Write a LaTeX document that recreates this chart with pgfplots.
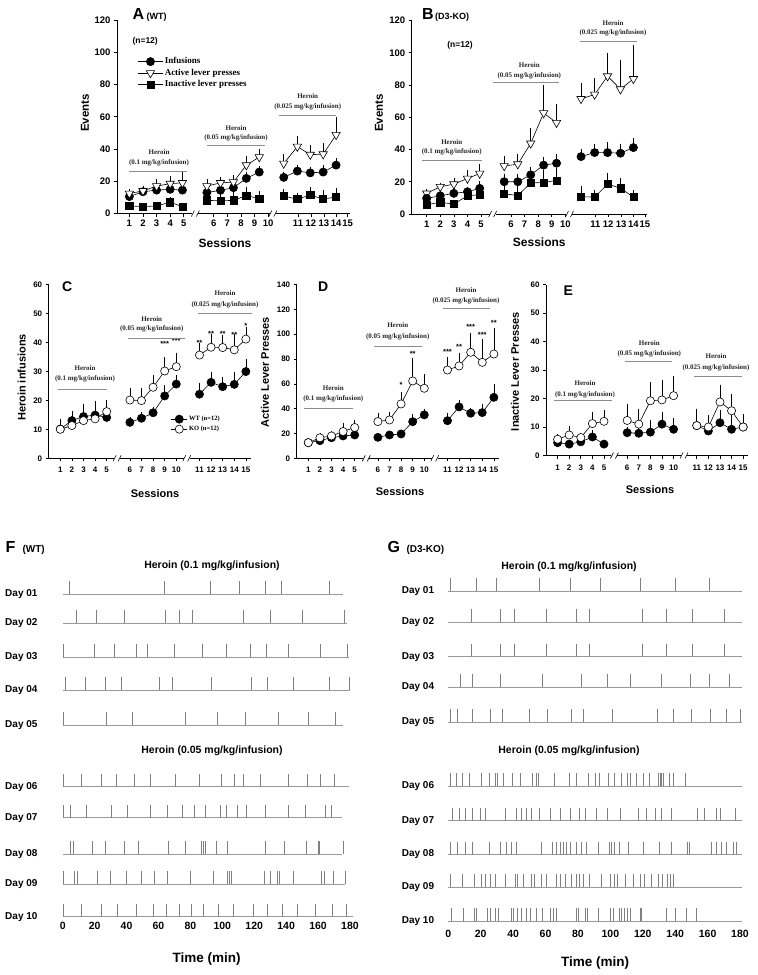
\documentclass[border=0pt]{standalone}
\usepackage{fontspec}
\setmainfont{Liberation Sans}
\newfontfamily\tms{Liberation Serif}
\usepackage{pgfplots}
\pgfplotsset{compat=1.18}
\newcommand\fs[1]{\fontsize{#1}{#1}\selectfont}
% dose annotation: x, y(Heroin), y(dose), dose, y(line), x1, x2  (pixel units)
\newcommand\hero[7]{%
  \node[font=\tms\bfseries\fs{7}, text=black!85] at (#1pt,-#2pt) {Heroin};
  \node[font=\tms\bfseries\fs{7}, text=black!85] at (#1pt,-#3pt) {(#4 mg/kg/infusion)};
  \draw[black!45, line width=0.8pt] (#6pt,-#5pt) -- (#7pt,-#5pt);}
% axis break
\newcommand\brk[1]{%
  \fill[white] ([xshift=-3pt,yshift=-2pt]axis cs:#1,0) rectangle ([xshift=3pt,yshift=2pt]axis cs:#1,0);
  \draw[black, line width=0.6pt] ([xshift=-4pt,yshift=-3pt]axis cs:#1,0) -- ([xshift=-1pt,yshift=3pt]axis cs:#1,0)
    ([xshift=1pt,yshift=-3pt]axis cs:#1,0) -- ([xshift=4pt,yshift=3pt]axis cs:#1,0);}
% raster row: y, end of baseline, event times
\newcommand\rast[3]{%
  \addplot[black!40, line width=0.8pt, mark=none] coordinates {(0,#1) (#2,#1)};
  \addplot[tk] table[header=false, x index=0, y expr=#1, row sep=\\] {#3};}

\pgfplotsset{
  inf/.style={black, line width=0.6pt, mark=*, mark size=4.1pt, mark options={solid, fill=black}},
  act/.style={black, line width=0.6pt, mark=triangle*, mark size=4.8pt, mark options={solid, fill=white, rotate=180}},
  inact/.style={black, line width=0.6pt, mark=square*, mark size=3.6pt, mark options={solid, fill=black}},
  wt/.style={black, line width=0.6pt, mark=*, mark size=4.1pt, mark options={solid, fill=black}},
  ko/.style={black, line width=0.6pt, mark=*, mark size=4.1pt, mark options={solid, fill=white}},
  ebar/.style={error bars/y dir=plus, error bars/y explicit,
    error bars/error bar style={black, line width=0.6pt},
    error bars/error mark options={black, mark size=2.6pt, line width=0.6pt}},
  tk/.style={only marks, mark=|, mark size=6.5pt, black!50, mark options={line width=0.8pt, yshift=6.5pt}},
  base/.style={scale only axis, anchor=south west, axis x line*=bottom, axis y line*=left,
    tick align=outside, major tick length=3pt, tick style={black, line width=0.6pt},
    axis line style={black, line width=0.7pt}, clip=false, unbounded coords=jump,
    /pgf/number format/assume math mode=true},
  ab/.style={base, tick label style={font=\bfseries\fs{9.5}},
    xtick={1,2,3,4,5,7.2,8.2,9.2,10.2,11.2,13.4,14.35,15.3,16.2,17.05},
    xticklabels={1,2,3,4,5,6,7,8,9,10,11,12,13,14,15},
    xmax=17.2, ymin=0, ymax=120, ytick={0,20,...,120}},
  cde/.style={base, tick label style={font=\bfseries\fs{8}},
    xticklabel style={yshift=-2.5pt},
    xtick={1,2,3,4,5,7,8,9,10,11,13,14,15,16,17},
    xticklabels={1,2,3,4,5,6,7,8,9,10,11,12,13,14,15},
    xmin=0, xmax=17.4, ymin=0, width=201.8pt},
  ras/.style={scale only axis, anchor=south west, y dir=reverse, clip=false,
    axis line style={draw=none}, major tick length=0pt, xmin=0, xmax=180, ymin=0.3,
    xtick={0,20,...,180}, /pgf/number format/assume math mode=true,
    xticklabel style={font=\bfseries\fs{10.5}},
    yticklabels={Day 01,Day 02,Day 03,Day 04,Day 05,Day 06,Day 07,Day 08,Day 09,Day 10}},
}

\begin{document}
\begin{tikzpicture}
\path[use as bounding box] (0pt,0pt) rectangle (758pt,-975pt);

%% ---------------- A (WT) ----------------
\begin{axis}[ab, at={(117pt,-213.5pt)}, width=232.7pt, height=193.5pt, xmin=0.09,
  legend style={at={(0.075,0.825)}, anchor=north west, draw=none, fill=none,
    font=\tms\bfseries\fs{9}, row sep=0.3pt,
    nodes={inner sep=1.5pt, text height=6.3pt, text depth=1.8pt}},
  legend cell align=left,
  legend image code/.code={\draw[mark repeat=2, mark phase=2, #1] plot coordinates {(0pt,0pt) (12.5pt,0pt) (25pt,0pt)};}]
\addplot[inf, ebar] coordinates {
 (1,10.5)+-(0,1) (2,13.5)+-(0,1.5) (3,14.5)+-(0,1.5) (4,15)+-(0,2) (4.9,14.5)+-(0,1.5) (5.8,nan)+-(0,0)
 (6.7,13)+-(0,1.5) (7.7,14.4)+-(0,1.5) (8.65,16)+-(0,2) (9.6,21.8)+-(0,2.5) (10.55,25.7)+-(0,2) (11.5,nan)+-(0,0)
 (12.35,22.4)+-(0,2) (13.35,26.3)+-(0,2.2) (14.3,25.2)+-(0,2.3) (15.25,25.7)+-(0,3) (16.2,30)+-(0,3)};
\addlegendentry{Infusions}
\addplot[act, ebar] coordinates {
 (1,12.4)+-(0,1) (2,14)+-(0,1.4) (3,17)+-(0,2.5) (4,18.5)+-(0,3) (4.9,19)+-(0,5) (5.8,nan)+-(0,0)
 (6.7,17)+-(0,2.5) (7.7,19)+-(0,2) (8.65,19.5)+-(0,2.5) (9.6,30)+-(0,4) (10.55,35)+-(0,3.5) (11.5,nan)+-(0,0)
 (12.35,31)+-(0,4.5) (13.35,41.5)+-(0,5) (14.3,36.5)+-(0,4.2) (15.25,36.8)+-(0,5.3) (16.2,48.8)+-(0,9.5)};
\addlegendentry{Active lever presses}
\addplot[inact, ebar] coordinates {
 (1,4.7)+-(0,1) (2,4.3)+-(0,0.8) (3,4.7)+-(0,1) (4,7)+-(0,1.5) (4.9,4.2)+-(0,0.8) (5.8,nan)+-(0,0)
 (6.7,8.2)+-(0,2) (7.7,7.8)+-(0,2.5) (8.65,8.2)+-(0,3.5) (9.6,11.1)+-(0,3.5) (10.55,9.3)+-(0,3) (11.5,nan)+-(0,0)
 (12.35,10.8)+-(0,3) (13.35,8.9)+-(0,2) (14.3,11.4)+-(0,3.6) (15.25,9)+-(0,4) (16.2,10.2)+-(0,3.8)};
\addlegendentry{Inactive lever presses}
\brk{5.85}\brk{11.55}
\end{axis}

%% ---------------- B (D3-KO) ----------------
\begin{axis}[ab, at={(411.7pt,-214pt)}, width=235.3pt, height=193.5pt, xmin=-0.1]
\addplot[act, ebar] coordinates {
 (1,12.8)+-(0,1) (2,16.9)+-(0,0.8) (3,18.5)+-(0,2.5) (4,22)+-(0,3.5) (4.9,25.1)+-(0,4.2) (5.8,nan)+-(0,0)
 (6.7,29.8)+-(0,4.7) (7.7,30.9)+-(0,5) (8.65,43.8)+-(0,7.7) (9.6,62.6)+-(0,15.9) (10.55,56.6)+-(0,9.7) (11.5,nan)+-(0,0)
 (12.35,71.4)+-(0,8.1) (13.35,74.1)+-(0,8.9) (14.3,85.5)+-(0,13) (15.25,77.4)+-(0,16.6) (16.2,83.8)+-(0,19.2)};
\addplot[inf, ebar] coordinates {
 (1,9.7)+-(0,1.5) (2,11.3)+-(0,2) (3,12.8)+-(0,2) (4,13.8)+-(0,1.5) (4.9,15.9)+-(0,3) (5.8,nan)+-(0,0)
 (6.7,20)+-(0,3.5) (7.7,20)+-(0,3.5) (8.65,24.3)+-(0,3.2) (9.6,30.3)+-(0,3.7) (10.55,31.5)+-(0,4) (11.5,nan)+-(0,0)
 (12.35,35.6)+-(0,3.4) (13.35,38.1)+-(0,3.9) (14.3,38.1)+-(0,4.9) (15.25,37.7)+-(0,4.3) (16.2,41.2)+-(0,4.3)};
\addplot[inact, ebar] coordinates {
 (1,5.8)+-(0,1.5) (2,7.2)+-(0,1.8) (3,6.2)+-(0,1) (4,11.3)+-(0,2.2) (4.9,12)+-(0,2.5) (5.8,nan)+-(0,0)
 (6.7,12.5)+-(0,4) (7.7,11.5)+-(0,4) (8.65,19.2)+-(0,1.5) (9.6,19.6)+-(0,5.9) (10.55,20.8)+-(0,6.2) (11.5,nan)+-(0,0)
 (12.35,10.7)+-(0,4.8) (13.35,10.5)+-(0,2.5) (14.3,18.5)+-(0,5.5) (15.25,16)+-(0,4.5) (16.2,10.5)+-(0,2.5)};
\brk{5.85}\brk{11.5}
\end{axis}

%% ---------------- C ----------------
\begin{axis}[cde, at={(48.7pt,-458.3pt)}, height=174pt, ymax=60, ytick={0,10,...,60},
  legend style={at={(0.59,0.265)}, anchor=north west, draw=none, fill=none,
    font=\tms\bfseries\fs{6.5}, row sep=0.5pt,
    nodes={inner sep=1.5pt, text height=5pt, text depth=1.5pt}},
  legend cell align=left,
  legend image code/.code={\draw[mark repeat=2, mark phase=2, #1] plot coordinates {(0pt,0pt) (8pt,0pt) (16pt,0pt)};}]
\addplot[wt, ebar] coordinates {
 (1,10.1)+-(0,0.8) (2,13)+-(0,2.5) (3,14.4)+-(0,3.4) (4,14.9)+-(0,3.9) (5,14.1)+-(0,2) (6,nan)+-(0,0)
 (7,12.4)+-(0,1) (8,13.8)+-(0,1.2) (9,15.7)+-(0,1.2) (10,21.5)+-(0,3) (11,25.6)+-(0,2.2) (12,nan)+-(0,0)
 (13,22.1)+-(0,3) (14,26.2)+-(0,2.8) (15,24.7)+-(0,2.6) (16,25.5)+-(0,3.5) (17,29.9)+-(0,3.5)};
\addlegendentry{WT (n=12)}
\addplot[ko, ebar] coordinates {
 (1,10)+-(0,2.5) (2,11.3)+-(0,1.5) (3,13)+-(0,4.8) (4,13.6)+-(0,5.2) (5,16.1)+-(0,3.2) (6,nan)+-(0,0)
 (7,20.1)+-(0,3.4) (8,19.9)+-(0,3.6) (9,24.5)+-(0,3.2) (10,30.1)+-(0,3.9) (11,31.6)+-(0,3.9) (12,nan)+-(0,0)
 (13,35.6)+-(0,3.4) (14,38.3)+-(0,3.5) (15,38.2)+-(0,3.4) (16,37.4)+-(0,4.6) (17,41.1)+-(0,3.4)};
\addlegendentry{KO (n=12)}
\brk{5.9}\brk{11.9}
\begin{scope}[every node/.style={font=\bfseries\fs{7.5}, yshift=-1.5pt}]
\node at (axis cs:10,40) {***}; \node at (axis cs:11,41) {***};
\node at (axis cs:13,40.2) {**}; \node at (axis cs:14,43.3) {**}; \node at (axis cs:15,43.3) {**};
\node at (axis cs:16,43) {**}; \node at (axis cs:17,46) {*};
\end{scope}
\end{axis}

%% ---------------- D ----------------
\begin{axis}[cde, at={(296.7pt,-458.3pt)}, height=173.8pt, ymax=140, ytick={0,20,...,140}]
\addplot[wt, ebar] coordinates {
 (1,12.6)+-(0,0.8) (2,14.2)+-(0,1) (3,16.6)+-(0,1) (4,18)+-(0,1.2) (5,18.8)+-(0,1.5) (6,nan)+-(0,0)
 (7,16.9)+-(0,1) (8,18.8)+-(0,1) (9,19.6)+-(0,1.2) (10,29.5)+-(0,4) (11,35)+-(0,3) (12,nan)+-(0,0)
 (13,30.3)+-(0,4.2) (14,41.4)+-(0,3.6) (15,36.3)+-(0,2.5) (16,36.8)+-(0,4.7) (17,49.1)+-(0,8.4)};
\addplot[ko, ebar] coordinates {
 (1,12.6)+-(0,1.4) (2,16.5)+-(0,1.5) (3,18)+-(0,1.5) (4,21.6)+-(0,4.4) (5,24.8)+-(0,4.2) (6,nan)+-(0,0)
 (7,29.6)+-(0,4.9) (8,30.9)+-(0,4.6) (9,43.8)+-(0,7.7) (10,62.3)+-(0,16.2) (11,56.4)+-(0,9.6) (12,nan)+-(0,0)
 (13,71.1)+-(0,8.4) (14,74.4)+-(0,8.6) (15,85.4)+-(0,13.1) (16,77.3)+-(0,16.7) (17,84)+-(0,19)};
\brk{6}\brk{11.9}
\begin{scope}[every node/.style={font=\bfseries\fs{7.5}, yshift=-1.5pt}]
\node at (axis cs:9,60.4) {*}; \node at (axis cs:10,85) {**};
\node at (axis cs:13,86.7) {***}; \node at (axis cs:14,91.3) {**}; \node at (axis cs:15,107.4) {***};
\node at (axis cs:16,100.7) {***}; \node at (axis cs:17,110) {**};
\end{scope}
\end{axis}

%% ---------------- E ----------------
\begin{axis}[cde, at={(546pt,-455.5pt)}, height=171pt, ymax=60, ytick={0,10,...,60}]
\addplot[wt, ebar] coordinates {
 (1,4.5)+-(0,0.8) (2,4)+-(0,0.5) (3,4.8)+-(0,0.6) (4,6.5)+-(0,1.5) (5,4)+-(0,0.5) (6,nan)+-(0,0)
 (7,8)+-(0,1.2) (8,7.8)+-(0,1.2) (9,8.2)+-(0,3.3) (10,11)+-(0,3.5) (11,9.2)+-(0,3) (12,nan)+-(0,0)
 (13,10.5)+-(0,3.6) (14,8.6)+-(0,2) (15,11.5)+-(0,3.5) (16,9.2)+-(0,4) (17,10)+-(0,3.3)};
\addplot[ko, ebar] coordinates {
 (1,5.7)+-(0,0.8) (2,7.2)+-(0,2.3) (3,6.3)+-(0,0.8) (4,11.2)+-(0,3.3) (5,12)+-(0,3) (6,nan)+-(0,0)
 (7,12.3)+-(0,4.7) (8,11)+-(0,4.4) (9,19.2)+-(0,5.8) (10,19.5)+-(0,6) (11,21)+-(0,6) (12,nan)+-(0,0)
 (13,10.5)+-(0,5) (14,10)+-(0,3.2) (15,18.8)+-(0,5.2) (16,15.7)+-(0,4.8) (17,10)+-(0,3.5)};
\brk{5.9}\brk{11.9}
\end{axis}

%% ---------------- F (WT) raster ----------------
\begin{axis}[ras, at={(62.7pt,-918.7pt)}, width=287.3pt, height=347.1pt, ymax=10.96,
  ytick={1,1.89,2.92,3.94,5.01,6.91,7.86,8.98,9.9,10.9},
  yticklabel style={anchor=west, xshift=-61pt, font=\bfseries\fs{10}}]
\rast{1}{175.5}{4.2\\63.7\\92.3\\110.7\\126.7\\137.2\\167\\}
\rast{1.89}{178}{8.8\\20.9\\38.6\\64.5\\72.9\\81.4\\113.2\\130.3\\150.1\\176.4\\}
\rast{2.92}{179.5}{0.4\\19.6\\32.4\\45.9\\53.2\\69.9\\87.7\\102.3\\117.3\\127.8\\141.4\\161.6\\178.5\\}
\rast{3.94}{180}{1.5\\14.4\\26.5\\37\\60.3\\68.9\\93.3\\118\\128.2\\144.5\\166.8\\179.6\\}
\rast{5.01}{175.5}{0.4\\27.6\\43.8\\77\\96.9\\114.6\\135.1\\153.9\\170.6\\}
\rast{6.91}{179.5}{0.4\\11.5\\24\\33.4\\44.9\\54.7\\70.8\\85.4\\99.6\\107.5\\113.2\\123.6\\141.4\\153.3\\161.2\\170.2\\}
\rast{7.86}{175}{0.4\\4.6\\14.6\\30.7\\40.7\\54.7\\65.8\\75.2\\82.5\\89.6\\99\\102.3\\109.4\\114.8\\126.7\\141.4\\151.8\\164.7\\168.5\\}
\rast{8.98}{175}{5\\6.7\\18.8\\26.7\\38.4\\47.6\\66.2\\77\\87.1\\88.1\\89.6\\96\\103.4\\127.2\\138.6\\152.8\\160.1\\160.8\\175.8\\}
\rast{9.9}{177}{0.4\\7.1\\9.4\\21.9\\29.6\\39.7\\49.5\\57.2\\65.8\\79.8\\94.4\\103.1\\104.4\\105.9\\126.1\\130.3\\134.4\\135.5\\144.5\\162.2\\163.9\\169.5\\176.9\\}
\rast{10.9}{182}{0.4\\11.9\\24.4\\34.5\\46.4\\56.8\\65.1\\72.9\\80.4\\88.1\\97.5\\106.9\\119.4\\128.4\\137.8\\147.2\\158.1\\168.9\\177.9\\}
\end{axis}

%% ---------------- G (D3-KO) raster ----------------
\begin{axis}[ras, at={(448.3pt,-927pt)}, width=291.7pt, height=358.8pt, ymax=11.24,
  ytick={1,1.95,3,3.93,5,6.95,8,9.03,10.02,11.06},
  yticklabel style={anchor=west, xshift=-50pt, font=\bfseries\fs{10}}]
\rast{1}{181}{1.6\\17.1\\29.8\\56\\75.5\\94\\118.3\\139.9\\160.9\\}
\rast{1.95}{181}{14.4\\32.3\\40.5\\60.3\\78.8\\86.8\\119.7\\134.7\\150.8\\170.1\\}
\rast{3}{181}{14.4\\32.3\\40.5\\60.3\\78.8\\86.8\\119.7\\134.7\\150.8\\170.1\\}
\rast{3.93}{181}{7.6\\15\\32.3\\58\\82.3\\98.3\\112.1\\131.2\\149.5\\161.1\\173.4\\}
\rast{5}{181}{1.4\\5.6\\15\\25.7\\33.5\\50\\61.1\\76.1\\83.3\\101.2\\129\\138.9\\150.2\\161.9\\171.8\\180\\}
\rast{6.95}{181}{1.4\\5.1\\8.6\\12.8\\20.6\\25.3\\28.8\\30.2\\34.3\\39.7\\44.2\\51.8\\54.5\\55.5\\65.2\\74.6\\79.2\\86.4\\90.5\\93.2\\98.7\\102.4\\106.9\\110.6\\112.1\\116.2\\120.3\\124\\129.6\\130.6\\131.6\\132.7\\136.2\\138.8\\146\\}
\rast{8}{181}{2.7\\6.6\\10.7\\15\\19.5\\22.6\\35.4\\42.2\\45.3\\48.4\\51.4\\56.2\\62.7\\68.9\\75.1\\80.8\\84.9\\91.5\\98.3\\105.9\\117.2\\122.4\\127.5\\131.6\\137.8\\153.7\\157.8\\165.6\\167.7\\176.9\\}
\rast{9.03}{181}{1.4\\5.8\\10.7\\14.8\\25.3\\31.9\\36\\39.1\\42.2\\57.6\\64.4\\66.9\\69.3\\71\\73\\75.1\\79.2\\82.3\\85.4\\92.6\\99.4\\100.8\\102.2\\105.5\\111.1\\120.3\\130.2\\137.8\\147.5\\148.7\\162.5\\165.6\\168.7\\171.8\\175.9\\177.5\\}
\rast{10.02}{181}{1.4\\8.6\\15.8\\20.6\\22.6\\25.7\\28.8\\35\\41.1\\42.6\\46.3\\51.4\\52.9\\57.6\\60.7\\66.9\\68.9\\72\\76.1\\79.2\\80.8\\83.3\\87\\94.6\\100.2\\102.2\\104.3\\109\\114.2\\118.3\\121\\125.1\\129.6\\132.3\\135.2\\136.8\\138.9\\}
\rast{11.06}{181}{2.1\\9.3\\15.8\\17.5\\24.1\\25.7\\28.8\\30.9\\38.7\\40.1\\42.6\\45.3\\48.3\\50.8\\54.5\\58\\63.2\\64.8\\66.9\\78.8\\80.2\\84.3\\85.8\\92.6\\99.8\\101.8\\105.5\\107\\108.4\\110.5\\112.1\\118.3\\119.3\\134.3\\139.9\\146.7\\153.3\\}
\end{axis}

%% ---------------- text: panel letters, labels, annotations ----------------
\node[anchor=base west, font=\bfseries\fs{16}] at (129pt,-19.5pt) {A};
\node[anchor=base west, font=\bfseries\fs{9}] at (143pt,-19.5pt) {(WT)};
\node[anchor=base west, font=\bfseries\fs{16}] at (418.5pt,-19.5pt) {B};
\node[anchor=base west, font=\bfseries\fs{9}] at (431.5pt,-19.5pt) {(D3-KO)};
\node[anchor=base west, font=\bfseries\fs{14}] at (58.5pt,-291pt) {C};
\node[anchor=base west, font=\bfseries\fs{14}] at (314.5pt,-291pt) {D};
\node[anchor=base west, font=\bfseries\fs{14}] at (560pt,-295pt) {E};
\node[anchor=base west, font=\bfseries\fs{16}] at (2pt,-552pt) {F};
\node[anchor=base west, font=\bfseries\fs{10}] at (19pt,-552pt) {(WT)};
\node[anchor=base west, font=\bfseries\fs{16}] at (384pt,-552pt) {G};
\node[anchor=base west, font=\bfseries\fs{10}] at (403pt,-552pt) {(D3-KO)};

\node[anchor=west, font=\bfseries\fs{8.5}] at (129pt,-41.7pt) {(n=12)};
\node[font=\bfseries\fs{8.5}] at (460pt,-45pt) {(n=12)};

\node[rotate=90, font=\bfseries\fs{11.5}] at (85pt,-113pt) {Events};
\node[rotate=90, font=\bfseries\fs{11.5}] at (379pt,-113pt) {Events};
\node[font=\bfseries\fs{12}] at (225pt,-243pt) {Sessions};
\node[font=\bfseries\fs{12}] at (539.3pt,-242.7pt) {Sessions};
\node[rotate=90, font=\bfseries\fs{11}] at (21.7pt,-377.5pt) {Heroin infusions};
\node[rotate=90, font=\bfseries\fs{11}] at (265pt,-372.3pt) {Active Lever Presses};
\node[rotate=90, font=\bfseries\fs{11}] at (515pt,-371.7pt) {Inactive Lever Presses};
\node[font=\bfseries\fs{11}] at (155pt,-493.3pt) {Sessions};
\node[font=\bfseries\fs{11}] at (400pt,-491.7pt) {Sessions};
\node[font=\bfseries\fs{11}] at (650pt,-490pt) {Sessions};

\hero{159}{151.7}{163.3}{0.1}{171.7}{129}{187}
\hero{236}{127.7}{138.3}{0.05}{145.7}{206.7}{265}
\hero{307.7}{96}{107.3}{0.025}{115.3}{279}{336}
\hero{451.7}{141.7}{151.7}{0.1}{160}{421.7}{481.7}
\hero{529.3}{65}{76}{0.05}{82.7}{492.7}{559.3}
\hero{613}{22.7}{33.3}{0.025}{41.7}{580}{636.7}
\hero{85}{368.3}{379}{0.1}{389}{58.3}{106.7}
\hero{151.7}{319}{329.3}{0.05}{338.3}{128.3}{185}
\hero{225}{293.5}{305}{0.025}{313.3}{198.3}{251.7}
\hero{333.3}{388.3}{399}{0.1}{408.3}{304.3}{353.3}
\hero{397.7}{325}{336.7}{0.05}{346}{374}{421.7}
\hero{466}{290}{301}{0.025}{308.3}{442.7}{490}
\hero{585}{382.7}{395}{0.1}{400.7}{554.3}{611.7}
\hero{649.3}{343.3}{354.3}{0.05}{361.7}{625}{671.7}
\hero{716}{356}{367.7}{0.025}{376.7}{694.3}{741.7}

\node[font=\bfseries\fs{10.5}] at (212pt,-566pt) {Heroin (0.1 mg/kg/infusion)};
\node[font=\bfseries\fs{10.5}] at (212pt,-751pt) {Heroin (0.05 mg/kg/infusion)};
\node[font=\bfseries\fs{10.5}] at (569pt,-566.7pt) {Heroin (0.1 mg/kg/infusion)};
\node[font=\bfseries\fs{10.5}] at (569pt,-751pt) {Heroin (0.05 mg/kg/infusion)};
\node[font=\bfseries\fs{13.5}] at (206.7pt,-959pt) {Time (min)};
\node[font=\bfseries\fs{13.5}] at (595pt,-962.7pt) {Time (min)};
\end{tikzpicture}
\end{document}
